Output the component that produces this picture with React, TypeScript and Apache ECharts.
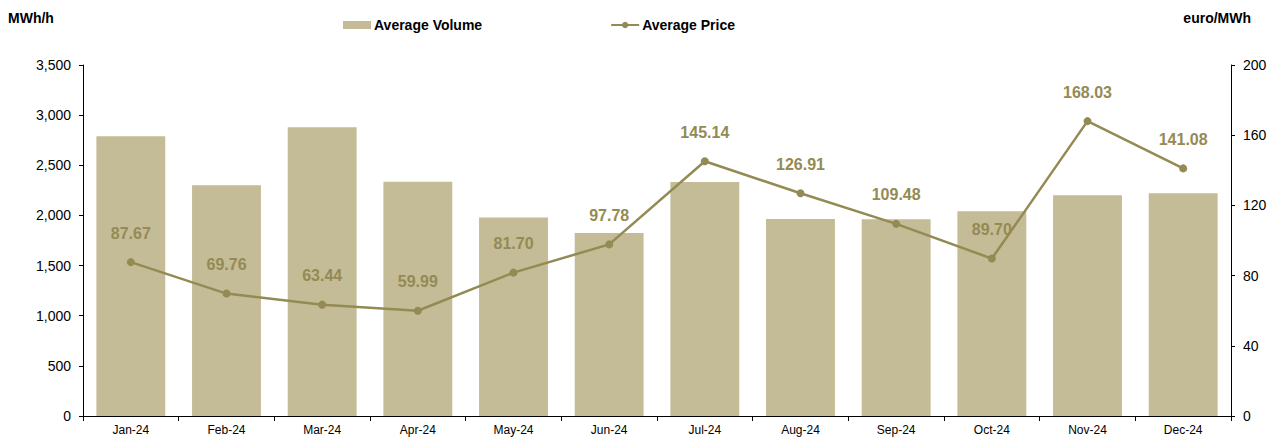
import React, { useEffect, useRef } from "react";
import * as echarts from "echarts";

const categories = ["Jan-24", "Feb-24", "Mar-24", "Apr-24", "May-24", "Jun-24", "Jul-24", "Aug-24", "Sep-24", "Oct-24", "Nov-24", "Dec-24"];
const volumeValues = [2790, 2300, 2880, 2335, 1980, 1825, 2333, 1965, 1962, 2042, 2201, 2221];
const priceValues = [87.67, 69.76, 63.44, 59.99, 81.7, 97.78, 145.14, 126.91, 109.48, 89.7, 168.03, 141.08];

const BAR = "#C4BC96";
const LINE = "#948A54";
const FONT = "Liberation Sans, Arial, sans-serif";

export default function App() {
  const ref = useRef<HTMLDivElement>(null);
  useEffect(() => {
    document.body.style.margin = "0";
    const chart = echarts.init(ref.current!, null, { renderer: "svg" });
    chart.setOption({
      animation: false,
      textStyle: { fontFamily: FONT },
      legend: {
        top: 13,
        left: 338,
        itemGap: 128,
        itemWidth: 28,
        itemHeight: 8,
        textStyle: { fontFamily: FONT, fontWeight: "bold", fontSize: 14, color: "#000", padding: [0, 0, 0, -2] },
        data: [
          { name: "Average Volume", icon: "rect" },
          { name: "Average Price" },
        ],
      },
      grid: { left: 83, right: 49, top: 65, bottom: 21, containLabel: false },
      xAxis: {
        type: "category",
        data: categories,
        axisLine: { lineStyle: { color: "#000", width: 1 } },
        axisTick: { show: true, alignWithLabel: false, length: 5, lineStyle: { color: "#000" } },
        axisLabel: { color: "#000", fontSize: 12, margin: 8, fontFamily: FONT },
      },
      yAxis: [
        {
          type: "value",
          min: 0,
          max: 3500,
          interval: 500,
          name: "MWh/h",
          nameLocation: "end",
          nameGap: 0,
          nameTextStyle: { fontFamily: FONT, fontWeight: "bold", fontSize: 14, color: "#000", align: "left", padding: [0, 0, 40, -75] },
          axisLine: { show: true, lineStyle: { color: "#000" } },
          axisTick: { show: true, length: 4, lineStyle: { color: "#000" } },
          splitLine: { show: false },
          axisLabel: {
            color: "#000",
            fontSize: 14,
            margin: 12,
            fontFamily: FONT,
            formatter: (v: number) => v.toLocaleString("en-US"),
          },
        },
        {
          type: "value",
          min: 0,
          max: 200,
          interval: 40,
          name: "euro/MWh",
          nameLocation: "end",
          nameGap: 0,
          nameTextStyle: { fontFamily: FONT, fontWeight: "bold", fontSize: 14, color: "#000", align: "right", padding: [0, -20, 40, 0] },
          axisLine: { show: true, lineStyle: { color: "#000" } },
          axisTick: { show: true, length: 4, lineStyle: { color: "#000" } },
          splitLine: { show: false },
          axisLabel: { color: "#000", fontSize: 14, margin: 12, fontFamily: FONT },
        },
      ],
      series: [
        {
          name: "Average Volume",
          type: "bar",
          data: volumeValues,
          yAxisIndex: 0,
          barCategoryGap: "28%",
          itemStyle: { color: BAR },
        },
        {
          name: "Average Price",
          type: "line",
          data: priceValues,
          yAxisIndex: 1,
          symbol: "circle",
          symbolSize: 8,
          lineStyle: { color: LINE, width: 2.5 },
          itemStyle: { color: LINE },
          label: {
            show: true,
            position: "top",
            distance: 17,
            color: LINE,
            fontWeight: "bold",
            fontSize: 16,
            fontFamily: FONT,
            formatter: (p: any) => p.value.toFixed(2),
          },
        },
      ],
    });
    return () => chart.dispose();
  }, []);
  return <div ref={ref} style={{ width: 1280, height: 437 }} />;
}
